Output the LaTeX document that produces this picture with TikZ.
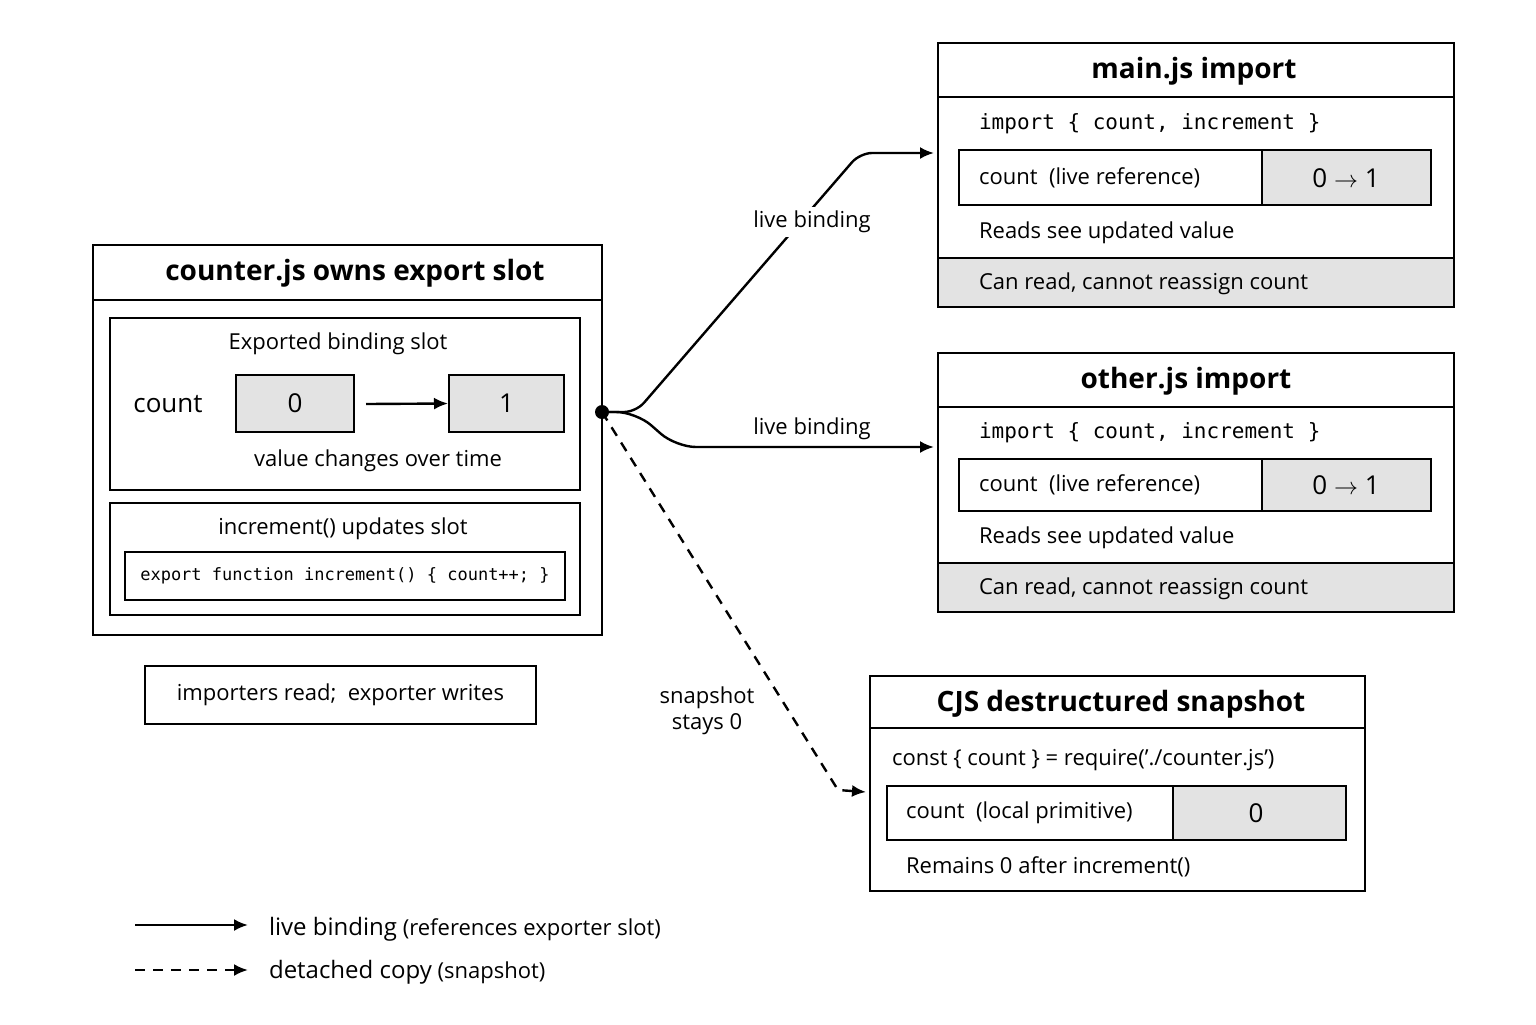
\documentclass[tikz,border=0pt]{standalone}
\usepackage{fontspec}
\setmainfont{Open Sans}
\setmonofont{DejaVu Sans Mono}
\usetikzlibrary{arrows.meta,positioning}
\definecolor{slotgray}{gray}{0.89}
\tikzset{
  frame/.style={draw=black,line width=1.4pt},
  inner/.style={draw=black,line width=1pt},
  cell/.style={draw=black,line width=1pt,fill=slotgray},
  title/.style={font=\fontsize{14}{16}\selectfont\bfseries},
  body/.style={font=\fontsize{11}{13}\selectfont},
  code/.style={font=\ttfamily\fontsize{10.5}{12}\selectfont},
  small code/.style={font=\ttfamily\fontsize{8.5}{10}\selectfont},
  lbl/.style={anchor=west,body},
  link/.style={line width=1.2pt,-{Latex[length=7pt,width=6pt]}},
  copy/.style={link,dash pattern=on 5pt off 4pt}
}
\begin{document}
\begin{tikzpicture}[x=0.5pt,y=-0.5pt]
  \useasboundingbox (0,0) rectangle (1536,1024);
  % exporter
  \draw[frame] (93,245) rectangle (602,635);
  \draw[frame] (93,300) -- (602,300);
  \node[title] (exptitle) at (355,273) {counter.js owns export slot};
  \draw[inner] (110,318) rectangle (580,490);
  \node[body] (slottitle) at (338,344) {Exported binding slot};
  \node[font=\fontsize{13}{15}\selectfont] (countlbl) at (168,404) {count};
  \node[cell,minimum width=59pt,minimum height=28.5pt,font=\fontsize{13}{15}\selectfont] (old) at (295,403.5) {0};
  \node[cell,minimum width=57.5pt,minimum height=28.5pt,font=\fontsize{13}{15}\selectfont] (new) at (506.5,403.5) {1};
  \draw[link] (366,404) -- (new.west);
  \node[body] (changes) at (378,461) {value changes over time};
  \draw[inner] (110,503) rectangle (580,615);
  \node[body] (inctitle) at (343,529) {increment() updates slot};
  \node[inner,small code,minimum width=220pt,minimum height=24pt] (inccode) at (345,576) {export function increment() \{ count++; \}};
  \node[inner,body,minimum width=195.5pt,minimum height=29pt] (note) at (340.5,695) {importers read;\ \ exporter writes};
  % main.js
  \draw[frame] (938,43) rectangle (1454,307);
  \draw[frame] (938,97) -- (1454,97);
  \fill[slotgray] (939,259) rectangle (1453,306);
  \draw[inner] (938,258) -- (1454,258);
  \node[title] (maintitle) at (1194,71) {main.js import};
  \node[lbl,code] (mainimp) at (972,124) {import \{ count, increment \}};
  \draw[inner] (959,150) rectangle (1431,205);
  \draw[cell] (1262,150) rectangle (1431,205);
  \node[lbl] (mainref) at (972,178) {count\ \ (live reference)};
  \node[font=\fontsize{13}{15}\selectfont] (mainval) at (1346,178) {0 $\rightarrow$ 1};
  \node[lbl] (mainreads) at (972,233) {Reads see updated value};
  \node[lbl] (maincan) at (972,284) {Can read, cannot reassign count};
  % other.js
  \draw[frame] (938,353) rectangle (1454,612);
  \draw[frame] (938,407) -- (1454,407);
  \fill[slotgray] (939,564) rectangle (1453,611);
  \draw[inner] (938,563) -- (1454,563);
  \node[title] (othtitle) at (1186,381) {other.js import};
  \node[lbl,code] (othimp) at (972,433) {import \{ count, increment \}};
  \draw[inner] (959,459) rectangle (1431,511);
  \draw[cell] (1262,459) rectangle (1431,511);
  \node[lbl] (othref) at (972,485) {count\ \ (live reference)};
  \node[font=\fontsize{13}{15}\selectfont] (othval) at (1346,485) {0 $\rightarrow$ 1};
  \node[lbl] (othreads) at (972,538) {Reads see updated value};
  \node[lbl] (othcan) at (972,589) {Can read, cannot reassign count};
  % CJS
  \draw[frame] (870,676) rectangle (1365,891);
  \draw[frame] (870,728) -- (1365,728);
  \node[title] (cjstitle) at (1121,704) {CJS destructured snapshot};
  \node[lbl] (cjsreq) at (885,760) {const \{ count \} = require('./counter.js')};
  \draw[inner] (887,786) rectangle (1346,840);
  \draw[cell] (1173,786) rectangle (1346,840);
  \node[lbl] (cjsloc) at (899,813) {count\ \ (local primitive)};
  \node[font=\fontsize{13}{15}\selectfont] (cjsval) at (1256,813) {0};
  \node[lbl] (cjsrem) at (899,867) {Remains 0 after increment()};
  % connectors
  \fill (602,412) circle (3.5pt);
  \coordinate (src) at (602,412);
  \coordinate (mainin) at (934,153);
  \coordinate (othin) at (934,447);
  \coordinate (cjsin) at (866,792);
  \draw[link,rounded corners=6pt] (src) -- (636,412) -- (860,153) -- (mainin);
  \draw[link,rounded corners=10pt] (src) -- (636,412) -- (676,447) -- (othin);
  \draw[copy] (src) -- (838,790) -- (cjsin);
  \node[body,fill=white,inner sep=2pt] (livelbl1) at (812,222) {live binding};
  \node[body] (livelbl2) at (812,429) {live binding};
  \node[body,align=center,fill=white,inner sep=1pt] (snaplbl) at (707,711) {snapshot\\stays 0};
  % legend
  \coordinate (leg1a) at (135,925); \coordinate (leg1b) at (248,925);
  \coordinate (leg2a) at (135,970); \coordinate (leg2b) at (248,970);
  \draw[link] (leg1a) -- (leg1b);
  \draw[copy] (leg2a) -- (leg2b);
  \node[lbl] (leglive) at (262,929) {{\fontsize{12}{14}\selectfont live binding} (references exporter slot)};
  \node[lbl] (legcopy) at (262,972) {{\fontsize{12}{14}\selectfont detached copy} (snapshot)};
\end{tikzpicture}
\end{document}
